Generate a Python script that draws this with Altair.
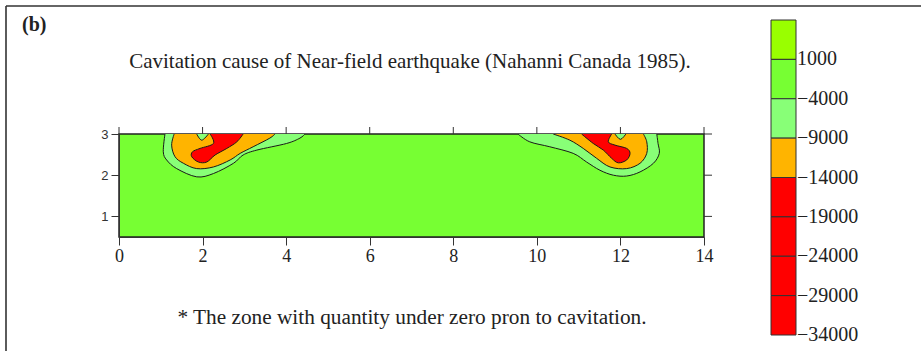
import altair as alt
import pandas as pd

# ---- contour polygons (x in km-like units, y depth axis) ----
L_outer_x = [1.10, 1.06, 1.14, 1.38, 1.86, 2.26, 2.74, 2.97, 3.30, 4.01, 4.33, 4.45]
L_outer_y = [3.0, 2.57, 2.37, 2.16, 1.96, 2.04, 2.29, 2.49, 2.61, 2.77, 2.90, 3.0]
L_orange_x = [1.32, 1.26, 1.34, 1.54, 1.86, 2.26, 2.66, 2.90, 3.21, 3.61, 3.73]
L_orange_y = [3.0, 2.73, 2.45, 2.29, 2.16, 2.20, 2.37, 2.53, 2.69, 2.90, 3.0]
L_red_x = [2.18, 2.26, 1.94, 1.76, 1.74, 1.90, 2.10, 2.30, 2.58, 2.82, 2.97]
L_red_y = [3.0, 2.77, 2.65, 2.57, 2.45, 2.32, 2.32, 2.49, 2.65, 2.81, 3.0]
L_notch_x = [1.86, 1.98, 2.14]
L_notch_y = [3.0, 2.85, 3.0]

R_outer_x = [9.55, 9.83, 10.31, 10.87, 11.19, 11.51, 11.83, 12.15, 12.47, 12.79, 12.93, 12.90, 12.87]
R_outer_y = [3.0, 2.81, 2.69, 2.53, 2.32, 2.12, 2.0, 1.98, 2.08, 2.29, 2.53, 2.77, 3.0]
R_orange_x = [10.39, 10.79, 11.11, 11.43, 11.75, 12.15, 12.47, 12.63, 12.63, 12.55]
R_orange_y = [3.0, 2.85, 2.65, 2.41, 2.20, 2.16, 2.29, 2.53, 2.81, 3.0]
R_red_x = [11.79, 11.71, 11.87, 12.15, 12.23, 12.15, 11.95, 11.79, 11.59, 11.35, 11.07]
R_red_y = [3.0, 2.81, 2.73, 2.65, 2.53, 2.37, 2.30, 2.41, 2.61, 2.77, 3.0]
R_notch_x = [11.87, 12.00, 12.13]
R_notch_y = [3.0, 2.87, 3.0]

# ---- axes ticks ----
x_ticks = [0, 2, 4, 6, 8, 10, 12, 14]
y_ticks = [1, 2, 3]

# ---- colour bar ----
cb_low = [1000, -4000, -9000, -14000, -19000, -24000, -29000, -34000]
cb_high = [6000, 1000, -4000, -9000, -14000, -19000, -24000, -29000]
cb_colors = ["#99FF00", "#77FF33", "#88FF77", "#FFB400", "#FF0000", "#FF0000", "#FF0000", "#FF0000"]
cb_labels = [1000, -4000, -9000, -14000, -19000, -24000, -29000, -34000]

C_GREEN = "#77FF33"
C_LIGHT = "#88FF77"
C_ORANGE = "#FFB400"
C_RED = "#FF0000"


def poly_df(pairs):
    rows = []
    for pid, (xs, ys) in enumerate(pairs):
        for i, (x, y) in enumerate(zip(xs, ys)):
            rows.append({"x": x, "y": y, "poly": pid, "i": i})
    return pd.DataFrame(rows)


xs = alt.Scale(domain=[0, 14], nice=False, zero=False)
ys = alt.Scale(domain=[0.5, 3], nice=False, zero=False)

x_enc = alt.X("x:Q", scale=xs, axis=alt.Axis(values=x_ticks, title=None, grid=False,
                                              labelFont="Liberation Serif", labelFontSize=18,
                                              labelColor="#222", tickSize=8, tickColor="#333",
                                              domainColor="#333", labelPadding=2, labelFlush=False))
y_enc = alt.Y("y:Q", scale=ys, axis=alt.Axis(values=y_ticks, title=None, grid=False,
                                              labelFont="Liberation Sans", labelFontSize=13,
                                              labelColor="#333", tickSize=8, tickColor="#333",
                                              domainColor="#333", labelPadding=3))


def poly_layer(pairs, color):
    return alt.Chart(poly_df(pairs)).mark_line(
        fill=color, stroke="#1a1a1a", strokeWidth=1, interpolate="cardinal", clip=True
    ).encode(x=x_enc, y=y_enc, detail="poly:N", order="i:Q")


light = poly_layer([(L_outer_x, L_outer_y), (R_outer_x, R_outer_y)], C_LIGHT)
orange = poly_layer([(L_orange_x, L_orange_y), (R_orange_x, R_orange_y)], C_ORANGE)
red = poly_layer([(L_red_x, L_red_y), (R_red_x, R_red_y)], C_RED)
notch = poly_layer([(L_notch_x, L_notch_y), (R_notch_x, R_notch_y)], C_LIGHT)

top_ticks = alt.Chart(pd.DataFrame({"x": x_ticks})).mark_rule(color="#333", strokeWidth=1).encode(
    x=alt.X("x:Q", scale=xs), y=alt.value(-7), y2=alt.value(0))
right_ticks = alt.Chart(pd.DataFrame({"y": y_ticks})).mark_rule(color="#333", strokeWidth=1).encode(
    y=alt.Y("y:Q", scale=ys), x=alt.value(585), x2=alt.value(593))

main = alt.layer(light, orange, red, notch, top_ticks, right_ticks)

# colour bar layer with its own y scale
cb_scale = alt.Scale(domain=[-34000, 6000], range=[201, -114], nice=False, zero=False)
cb_df = pd.DataFrame({"lo": cb_low, "hi": cb_high, "c": cb_colors})
cb_rect = alt.Chart(cb_df).mark_rect(stroke="#333", strokeWidth=1).encode(
    y=alt.Y("lo:Q", scale=cb_scale, axis=None), y2="hi:Q",
    x=alt.value(652), x2=alt.value(677),
    fill=alt.Fill("c:N", scale=None))
cb_text = alt.Chart(pd.DataFrame({"v": cb_labels})).mark_text(
    align="left", baseline="middle", font="Liberation Serif", fontSize=20, color="#222", dx=0
).encode(y=alt.Y("v:Q", scale=cb_scale, axis=None), x=alt.value(678),
         text=alt.Text("v:Q", format="d"))
cb = alt.layer(cb_rect, cb_text)

# texts and frame
def txt(s, x, y, size, weight="normal", align="center"):
    return alt.Chart(pd.DataFrame({"t": [s]})).mark_text(
        font="Liberation Serif", fontSize=size, fontWeight=weight, align=align,
        baseline="middle", color="#222").encode(text="t:N", x=alt.value(x), y=alt.value(y))

label_b = txt("(b)", -97, -109, 20, weight="bold", align="left")
title = txt("Cavitation cause of Near-field earthquake (Nahanni Canada 1985).", 291, -72, 21)
foot = txt("* The zone with quantity under zero pron to cavitation.", 293, 184, 21.3)

frame_df = pd.DataFrame({"k": [0]})
frame_top = alt.Chart(frame_df).mark_rule(color="#333", strokeWidth=1.6).encode(
    x=alt.value(-113), x2=alt.value(802), y=alt.value(-128))
frame_left = alt.Chart(frame_df).mark_rule(color="#333", strokeWidth=1.6).encode(
    x=alt.value(-113), y=alt.value(-128), y2=alt.value(217))

chart = alt.layer(main, cb, label_b, title, foot, frame_top, frame_left).resolve_scale(
    y="independent"
).properties(
    width=585, height=103,
    autosize=alt.AutoSizeParams(type="none"),
    padding={"left": 119, "top": 134, "right": 217, "bottom": 114},
    background="white",
).configure_view(fill=C_GREEN, stroke="#222", strokeWidth=1.5)

chart.save("out.html", embed_options={"renderer": "svg", "actions": False})
